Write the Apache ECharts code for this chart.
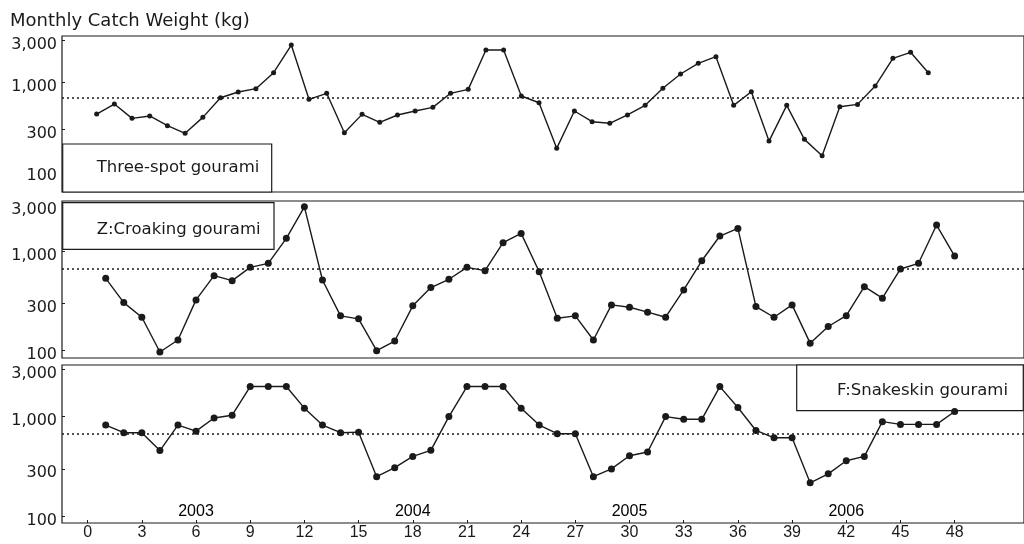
<!DOCTYPE html>
<html>
<head>
<meta charset="utf-8">
<script src="https://cdn.jsdelivr.net/npm/echarts@6/dist/echarts.min.js"></script>
<style>
  html, body { margin: 0; padding: 0; background: #ffffff; }
  #chart { width: 1024px; height: 544px; }
</style>
</head>
<body>
<div id="chart"></div>
<script>
// Monthly catch weight (kg) of three gourami species, Jan 2003 – Dec 2006
const months = [1, 2, 3, 4, 5, 6, 7, 8, 9, 10, 11, 12,
                13, 14, 15, 16, 17, 18, 19, 20, 21, 22, 23, 24,
                25, 26, 27, 28, 29, 30, 31, 32, 33, 34, 35, 36,
                37, 38, 39, 40, 41, 42, 43, 44, 45, 46, 47, 48];

const threeSpot = [445, 576, 398, 423, 329, 270, 408, 678, 786, 857, 1295, 2652,
                   651, 760, 274, 441, 359, 434, 481, 529, 760, 842, 2330, 2330,
                   709, 596, 183, 481, 365, 350, 434, 557, 865, 1253, 1652, 1959,
                   557, 792, 221, 557, 231, 151, 537, 571, 918, 1879, 2196, 1295];

const croaking = [536, 303, 215, 95, 126, 323, 570, 507, 693, 762, 1368, 2870,
                  515, 222, 207, 98, 123, 281, 431, 524, 693, 641, 1235, 1538,
                  626, 210, 222, 126, 287, 272, 242, 215, 408, 809, 1445, 1729,
                  276, 215, 287, 117, 173, 223, 440, 336, 667, 762, 1870, 903];

const snakeskin = [822, 689, 689, 456, 822, 714, 968, 1031, 2000, 2000, 2000, 1214,
                   822, 689, 698, 250, 308, 399, 459, 1000, 2000, 2000, 2000, 1214,
                   822, 673, 673, 250, 299, 405, 442, 1000, 939, 939, 1995, 1234,
                   726, 613, 613, 217, 267, 361, 399, 889, 835, 835, 835, 1124];

const speciesNames = ['Three-spot gourami', 'Z:Croaking gourami', 'F:Snakeskin gourami'];
const referenceLevel = 670;
const yTicks = [100, 300, 1000, 3000];
const xTicks = [0, 3, 6, 9, 12, 15, 18, 21, 24, 27, 30, 33, 36, 39, 42, 45, 48];
const years = ['2003', '2004', '2005', '2006'];
const yearMonths = [6, 18, 30, 42];

const INK = '#1a1a1a';
const WIDE = '"DejaVu Sans", sans-serif';
const NARROW = '"Liberation Sans", Arial, sans-serif';

const seriesValues = [threeSpot, croaking, snakeskin];

// panel frames
const panels = [
  { top: 36, height: 156, xr: [-0.959, 53.41], yr: [59.2, 3348], dot: 5 },
  { top: 201, height: 157, xr: [-1.42, 51.84], yr: [82.6, 3288], dot: 7 },
  { top: 365, height: 158, xr: [-1.42, 51.84], yr: [85.9, 3285], dot: 7 }
];

const thousands = v => String(Math.round(v)).replace(/\B(?=(\d{3})+(?!\d))/g, ',');

const chart = echarts.init(document.getElementById('chart'), null, { renderer: 'canvas' });

const option = {
  animation: false,
  backgroundColor: '#ffffff',
  grid: panels.map(p => ({
    left: 62, right: -2, top: p.top, height: p.height,
    show: true, borderColor: INK, borderWidth: 1.2, backgroundColor: 'transparent'
  })),
  xAxis: panels.map((p, i) => ({
    type: 'value', gridIndex: i, min: p.xr[0], max: p.xr[1],
    show: i === 2,
    axisLine: { show: false, onZero: false },
    splitLine: { show: false },
    axisTick: { show: true, inside: true, length: 3, customValues: xTicks, lineStyle: { color: INK } },
    axisLabel: { customValues: xTicks, margin: 2, fontSize: 16, fontFamily: NARROW, color: INK }
  })),
  yAxis: panels.map((p, i) => ({
    type: 'log', gridIndex: i, min: p.yr[0], max: p.yr[1],
    axisLine: { show: false, onZero: false },
    splitLine: { show: false },
    minorTick: { show: false },
    axisTick: { show: true, inside: true, length: 3, customValues: yTicks, lineStyle: { color: INK } },
    axisLabel: {
      customValues: yTicks, margin: 5,
      formatter: v => '{v|' + thousands(v) + '}',
      rich: { v: { fontSize: 16, fontFamily: WIDE, color: INK, padding: [9, 0, 0, 0] } }
    }
  })),
  series: seriesValues.map((vals, i) => ({
    type: 'line', name: speciesNames[i], xAxisIndex: i, yAxisIndex: i,
    data: months.map((m, k) => [m, vals[k]]),
    symbol: 'circle', symbolSize: panels[i].dot, showSymbol: true,
    itemStyle: { color: INK },
    lineStyle: { color: INK, width: 1.4 },
    z: 3,
    markLine: {
      silent: true, symbol: 'none', label: { show: false },
      lineStyle: { color: INK, type: [2, 3], width: 1.5 },
      data: [{ yAxis: referenceLevel }]
    }
  })).concat([{
    // year captions along the bottom panel
    type: 'scatter', xAxisIndex: 2, yAxisIndex: 2, silent: true,
    data: years.map((y, k) => [yearMonths[k], 111, y]),
    symbolSize: 0, itemStyle: { color: INK, opacity: 1 },
    label: { show: true, position: 'inside', formatter: p => p.value[2],
             fontSize: 16, fontFamily: NARROW, color: '#000', opacity: 1,
             textBorderWidth: 0 }
  }]),
  graphic: [
    { type: 'text', x: 10, y: 21, style: { text: 'Monthly Catch Weight (kg)', font: '18px ' + WIDE, fill: INK, verticalAlign: 'middle' } },
    { type: 'rect', z: 1, shape: { x: 62.7, y: 144, width: 209, height: 48 }, style: { fill: '#fff', stroke: INK, lineWidth: 1.2 } },
    { type: 'text', z: 1, x: 96.7, y: 168, style: { text: speciesNames[0], font: '16.5px ' + WIDE, fill: INK, verticalAlign: 'middle' } },
    { type: 'rect', z: 1, shape: { x: 62.7, y: 202.7, width: 211.3, height: 46.6 }, style: { fill: '#fff', stroke: INK, lineWidth: 1.2 } },
    { type: 'text', z: 1, x: 96.7, y: 230, style: { text: speciesNames[1], font: '16.5px ' + WIDE, fill: INK, verticalAlign: 'middle' } },
    { type: 'rect', z: 1, shape: { x: 796.7, y: 365, width: 226.6, height: 45.7 }, style: { fill: '#fff', stroke: INK, lineWidth: 1.2 } },
    { type: 'text', z: 1, x: 1008, y: 391, style: { text: speciesNames[2], font: '16.5px ' + WIDE, fill: INK, align: 'right', verticalAlign: 'middle' } }
  ]
};

chart.setOption(option);
</script>
</body>
</html>
